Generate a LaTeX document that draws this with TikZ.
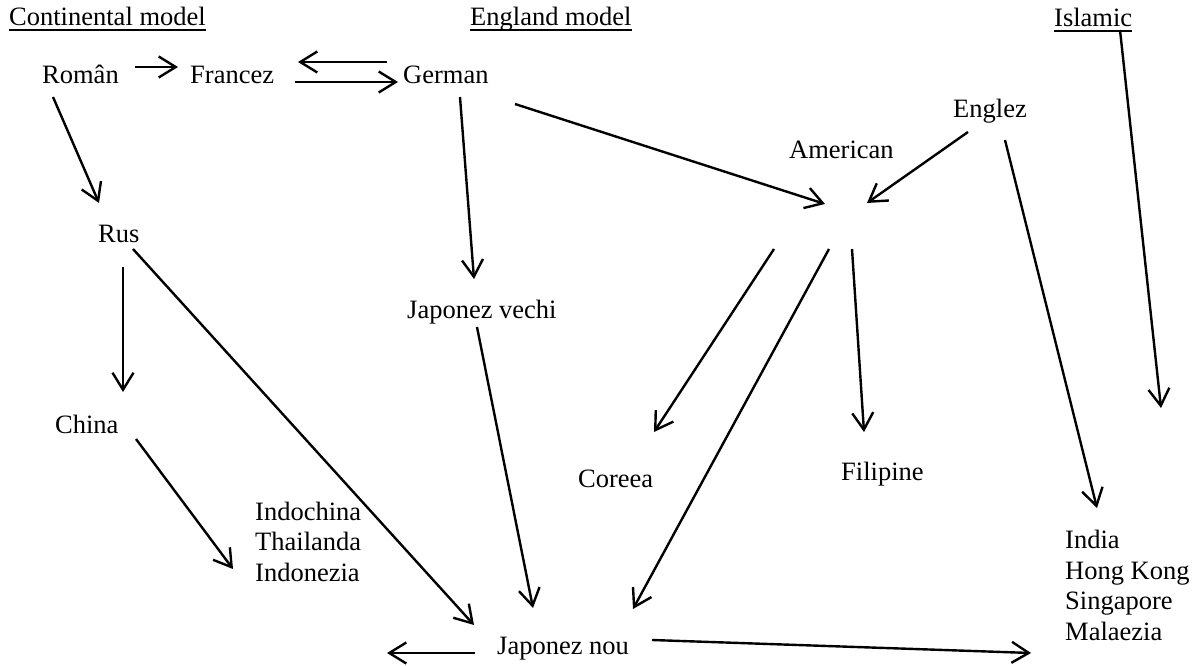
\documentclass[tikz,border=0pt]{standalone}
\usepackage{fontspec}
\setmainfont{Liberation Serif}
\usetikzlibrary{arrows.meta}
\begin{document}
\begin{tikzpicture}[x=1pt,y=-1pt,
  lbl/.style={anchor=base west, inner sep=0pt, font=\fontsize{26.5}{30.5}\selectfont, align=left},
  arr/.style={-{Straight Barb[length=17pt,width=21pt,line width=2.4pt]}, line width=2.4pt},
  ul/.style={line width=1.4pt}]
\useasboundingbox (0,0) rectangle (1197,666);
% headings
\node[lbl] (cont) at (9,26) {Continental model};
\node[lbl] (eng) at (470,26) {England model};
\node[lbl] (isl) at (1054,27) {Islamic};
\draw[ul] ([yshift=-4pt]cont.base west) -- ([yshift=-4pt]cont.base east);
\draw[ul] ([yshift=-4pt]eng.base west) -- ([yshift=-4pt]eng.base east);
\draw[ul] ([yshift=-4pt]isl.base west) -- ([yshift=-4pt]isl.base east);
% labels
\node[lbl] (roman) at (42,84) {Român};
\node[lbl] (francez) at (190,84) {Francez};
\node[lbl] (german) at (403,84) {German};
\node[lbl] (englez) at (953,118) {Englez};
\node[lbl] (american) at (789,158) {American};
\node[lbl] (rus) at (98,242) {Rus};
\node[lbl] (jv) at (407,318) {Japonez vechi};
\node[lbl] (china) at (55,433) {China};
\node[lbl] (coreea) at (578,487) {Coreea};
\node[lbl] (filipine) at (841,480) {Filipine};
\node[lbl] (indo) at (255,581) {Indochina\\Thailanda\\Indonezia};
\node[lbl] (india) at (1065,640) {India\\Hong Kong\\Singapore\\Malaezia};
\node[lbl] (jn) at (497,654) {Japonez nou};
% connector end points
\coordinate (romanE) at (135,67);   \coordinate (francezW) at (178,67);
\coordinate (germanW1) at (387,62); \coordinate (francezE1) at (298,62);
\coordinate (francezE2) at (295,82);\coordinate (germanW2) at (398,82);
\coordinate (romanS) at (53,97);    \coordinate (rusN) at (99,203);
\coordinate (germanS) at (460,97);  \coordinate (jvN) at (474,279);
\coordinate (germanE) at (515,104); \coordinate (amIn1) at (825,204);
\coordinate (englezW) at (968,132); \coordinate (amIn2) at (867,203);
\coordinate (rusS) at (123,267);    \coordinate (chinaN) at (123,392);
\coordinate (rusSE) at (133,249);   \coordinate (jnN1) at (474,625);
\coordinate (chinaSE) at (136,439); \coordinate (indoW) at (233,569);
\coordinate (jvS) at (477,327);     \coordinate (jnN2) at (533,608);
\coordinate (amOut1) at (774,249);  \coordinate (coreeaN) at (654,432);
\coordinate (amOut2) at (829,249);  \coordinate (jnN3) at (633,609);
\coordinate (amOut3) at (852,249);  \coordinate (filipineN) at (864,432);
\coordinate (englezS) at (1005,140);\coordinate (indiaN) at (1097,508);
\coordinate (islS) at (1120,30);    \coordinate (islEnd) at (1161,408);
\coordinate (jnW) at (475,653);     \coordinate (leftEnd) at (387,653);
\coordinate (jnE) at (652,640);     \coordinate (indiaW) at (1031,653);
% connectors
\draw[arr] (romanE) -- (francezW);
\draw[arr] (germanW1) -- (francezE1);
\draw[arr] (francezE2) -- (germanW2);
\draw[arr] (romanS) -- (rusN);
\draw[arr] (germanS) -- (jvN);
\draw[arr] (germanE) -- (amIn1);
\draw[arr] (englezW) -- (amIn2);
\draw[arr] (rusS) -- (chinaN);
\draw[arr] (rusSE) -- (jnN1);
\draw[arr] (chinaSE) -- (indoW);
\draw[arr] (jvS) -- (jnN2);
\draw[arr] (amOut1) -- (coreeaN);
\draw[arr] (amOut2) -- (jnN3);
\draw[arr] (amOut3) -- (filipineN);
\draw[arr] (englezS) -- (indiaN);
\draw[arr] (islS) -- (islEnd);
\draw[arr] (jnW) -- (leftEnd);
\draw[arr] (jnE) -- (indiaW);
\end{tikzpicture}
\end{document}
